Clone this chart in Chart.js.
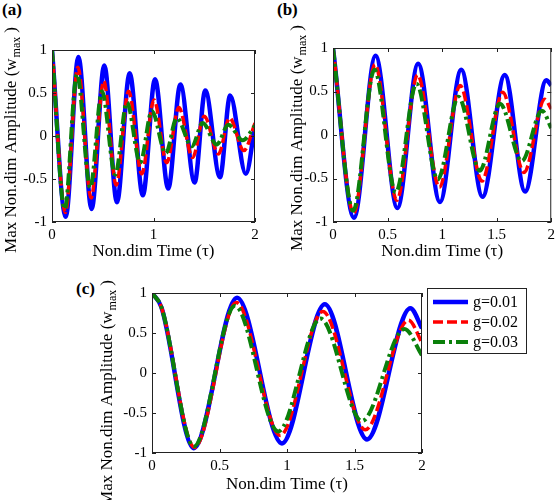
<!DOCTYPE html>
<html>
<head>
<meta charset="utf-8">
<script src="https://cdn.jsdelivr.net/npm/chart.js@4.4.0/dist/chart.umd.min.js"></script>
<style>
    body { margin: 0; background: #fff; width: 559px; height: 500px; position: relative; overflow: hidden; font-family: "Liberation Serif", serif; }
    canvas { position: absolute; }
    .tag { position: absolute; font-weight: bold; font-size: 17px; color: #000; }
</style>
</head>
<body>
<div class="tag" style="left:2px;top:0px">(a)</div>
<div class="tag" style="left:277px;top:0px">(b)</div>
<div class="tag" style="left:76px;top:279px">(c)</div>
<canvas id="panelA" width="270" height="262" style="left:0;top:0"></canvas>
<canvas id="panelB" width="289" height="262" style="left:270px;top:0"></canvas>
<canvas id="panelC" width="479" height="230" style="left:80px;top:270px"></canvas>
<script>
// ── Datos ──────────────────────────────────────────────
const gLabels = ['g=0.01', 'g=0.02', 'g=0.03'];
const xTicksA  = [0, 1, 2];
const xTicksBC = [0, 0.5, 1, 1.5, 2];
const yTicks   = [-1, -0.5, 0, 0.5, 1];

// (a)
const tA1 = [0, 0.135, 0.26, 0.39, 0.515, 0.64, 0.765, 0.895, 1.015, 1.145, 1.265, 1.405, 1.51, 1.655, 1.755, 1.91, 2];
const wA1 = [1, -0.94, 0.92, -0.85, 0.82, -0.77, 0.73, -0.69, 0.66, -0.61, 0.60, -0.54, 0.53, -0.48, 0.47, -0.44, 0.12];
const tA2 = [0, 0.132, 0.255, 0.385, 0.51, 0.632, 0.755, 0.885, 1.005, 1.13, 1.25, 1.385, 1.5, 1.64, 1.75, 1.89, 2];
const wA2 = [1, -0.89, 0.80, -0.72, 0.64, -0.57, 0.52, -0.44, 0.42, -0.31, 0.33, -0.25, 0.23, -0.21, 0.21, -0.17, 0.15];
const tA3 = [0, 0.125, 0.246, 0.377, 0.492, 0.623, 0.738, 0.869, 0.984, 1.121, 1.23, 1.377, 1.485, 1.623, 1.738, 1.879, 2];
const wA3 = [1, -0.85, 0.72, -0.60, 0.52, -0.45, 0.39, -0.31, 0.29, -0.20, 0.21, -0.12, 0.15, -0.10, 0.13, -0.05, 0.12];

// (b)
const tB1 = [0, 0.192, 0.39, 0.59, 0.78, 0.98, 1.175, 1.37, 1.574, 1.76, 1.955, 2];
const wB1 = [1, -0.95, 0.91, -0.84, 0.82, -0.77, 0.75, -0.71, 0.69, -0.65, 0.63, 0.57];
const tB2 = [0, 0.19, 0.385, 0.585, 0.775, 0.975, 1.165, 1.365, 1.555, 1.75, 1.94, 2];
const wB2 = [1, -0.90, 0.81, -0.75, 0.69, -0.60, 0.57, -0.53, 0.49, -0.43, 0.41, 0.30];
const tB3 = [0, 0.185, 0.38, 0.575, 0.765, 0.96, 1.15, 1.345, 1.53, 1.73, 1.915, 2];
const wB3 = [1, -0.87, 0.75, -0.66, 0.59, -0.51, 0.44, -0.41, 0.36, -0.30, 0.28, 0.08];

// (c)
const tC1 = [0, 0.07, 0.309, 0.63, 0.963, 1.28, 1.593, 1.914, 2];
const wC1 = [1, 0.82, -0.94, 0.94, -0.88, 0.86, -0.83, 0.81, 0.56];
const tC2 = [0, 0.07, 0.315, 0.625, 0.95, 1.265, 1.58, 1.9, 2];
const wC2 = [1, 0.82, -0.93, 0.88, -0.78, 0.77, -0.71, 0.66, 0.38];
const tC3 = [0, 0.07, 0.31, 0.615, 0.935, 1.248, 1.555, 1.87, 2];
const wC3 = [1, 0.82, -0.92, 0.84, -0.73, 0.68, -0.60, 0.55, 0.22];

// ── Estilos ────────────────────────────────────────────
const lineColors = ['#0000ff', '#ff0000', '#0a800a'];
const lineWidths = [4.5, 3.5, 4];
const lineDashes = [[], [10, 4], [12, 4, 3, 4]];
const serif = 'Liberation Serif';

// marco, marcas interiores, título Y y leyenda
const framePlugin = {
    id: 'frame',
    afterDraw(chart, args, o) {
        const { ctx, chartArea: a, scales } = chart;
        ctx.save();
        ctx.strokeStyle = '#222';
        ctx.lineWidth = 1;
        ctx.strokeRect(a.left + 0.5, a.top + 0.5, a.right - a.left - 1, a.bottom - a.top - 1);

        ctx.beginPath();
        scales.x.ticks.forEach(t => {
            const px = Math.round(scales.x.getPixelForValue(t.value)) + 0.5;
            ctx.moveTo(px, a.bottom); ctx.lineTo(px, a.bottom - 4);
            ctx.moveTo(px, a.top);    ctx.lineTo(px, a.top + 4);
        });
        scales.y.ticks.forEach(t => {
            const py = Math.round(scales.y.getPixelForValue(t.value)) + 0.5;
            ctx.moveTo(a.left, py);  ctx.lineTo(a.left + 4, py);
            ctx.moveTo(a.right, py); ctx.lineTo(a.right - 4, py);
        });
        ctx.stroke();

        // título Y con subíndice
        const main = 'Max Non.dim Amplitude (w';
        ctx.fillStyle = '#000';
        ctx.font = '17px "' + serif + '"';
        const w1 = ctx.measureText(main).width;
        ctx.font = '12px "' + serif + '"';
        const w2 = ctx.measureText('max').width;
        ctx.font = '17px "' + serif + '"';
        const w3 = ctx.measureText(')').width;
        const total = w1 + w2 + 5 + w3;
        ctx.translate(o.yTitleX, o.yTitleY);
        ctx.rotate(-Math.PI / 2);
        ctx.textAlign = 'left';
        ctx.textBaseline = 'alphabetic';
        let x0 = -total / 2;
        ctx.fillText(main, x0, 0);
        ctx.font = '12px "' + serif + '"';
        ctx.fillText('max', x0 + w1 + 1, 4);
        ctx.font = '17px "' + serif + '"';
        ctx.fillText(')', x0 + w1 + w2 + 5, 0);
        ctx.restore();

        if (o.legend) {
            const L = o.legend;
            ctx.save();
            ctx.fillStyle = '#fff';
            ctx.fillRect(L.left, L.top, L.width, L.height);
            ctx.strokeStyle = '#222';
            ctx.lineWidth = 1;
            ctx.strokeRect(L.left + 0.5, L.top + 0.5, L.width, L.height);
            chart.data.datasets.forEach((ds, i) => {
                const y = L.top + 14 + i * 20;
                ctx.strokeStyle = ds.borderColor;
                ctx.lineWidth = ds.borderWidth;
                ctx.setLineDash(ds.borderDash);
                ctx.beginPath();
                ctx.moveTo(L.left + 6, y);
                ctx.lineTo(L.left + 41, y);
                ctx.stroke();
                ctx.setLineDash([]);
                ctx.fillStyle = '#000';
                ctx.font = '16px "' + serif + '"';
                ctx.textBaseline = 'middle';
                ctx.fillText(ds.label, L.left + 46, y + 1);
            });
            ctx.restore();
        }
    }
};

function dibujarPanel(id, area, xTicks, tiempos, amplitudes, extra) {
    const canvas = document.getElementById(id);
    const W = canvas.width, H = canvas.height;
    const ctx = canvas.getContext('2d');

    return new Chart(ctx, {
        type: 'line',
        data: {
            datasets: tiempos.map((ts, i) => ({
                label: gLabels[i],
                data: ts.map((t, k) => ({ x: t, y: amplitudes[i][k] })),
                borderColor: lineColors[i],
                borderWidth: lineWidths[i],
                borderDash: lineDashes[i],
                borderCapStyle: 'butt',
                pointRadius: 0,
                fill: false,
                cubicInterpolationMode: 'monotone',
                order: 3 - i
            }))
        },
        options: {
            responsive: false,
            animation: false,
            devicePixelRatio: 1,
            layout: { padding: { top: area.top, right: W - area.right, left: 0, bottom: 0 } },
            plugins: {
                legend: { display: false },
                tooltip: { enabled: false },
                frame: extra
            },
            scales: {
                x: {
                    type: 'linear', min: 0, max: 2,
                    grid: { display: false, drawTicks: false },
                    border: { display: false },
                    afterBuildTicks: sc => { sc.ticks = xTicks.map(v => ({ value: v })); },
                    afterFit: sc => { sc.height = H - area.bottom; },
                    ticks: { font: { family: serif, size: 15 }, color: '#000', padding: 4, maxRotation: 0, autoSkip: false, callback: v => String(v) },
                    title: { display: true, text: 'Non.dim Time (τ)', color: '#000', font: { family: serif, size: 17 }, padding: { top: 0, bottom: extra.titlePad } }
                },
                y: {
                    type: 'linear', min: -1, max: 1,
                    grid: { display: false, drawTicks: false },
                    border: { display: false },
                    afterBuildTicks: sc => { sc.ticks = yTicks.map(v => ({ value: v })); },
                    afterFit: sc => { sc.width = area.left; },
                    ticks: { font: { family: serif, size: 15 }, color: '#000', padding: 5, callback: v => String(v) }
                }
            }
        },
        plugins: [framePlugin]
    });
}

dibujarPanel('panelA', { left: 52, top: 50, right: 255, bottom: 222 }, xTicksA,
    [tA1, tA2, tA3], [wA1, wA2, wA3], { yTitleX: 16, yTitleY: 140, titlePad: 0 });

dibujarPanel('panelB', { left: 63, top: 48, right: 285, bottom: 222 }, xTicksBC,
    [tB1, tB2, tB3], [wB1, wB2, wB3], { yTitleX: 32, yTitleY: 138, titlePad: 0 });

dibujarPanel('panelC', { left: 72, top: 23, right: 342, bottom: 183 }, xTicksBC,
    [tC1, tC2, tC3], [wC1, wC2, wC3],
    { yTitleX: 32, yTitleY: 123, titlePad: 5, legend: { left: 347, top: 18, width: 99, height: 65 } });
</script>
</body>
</html>
